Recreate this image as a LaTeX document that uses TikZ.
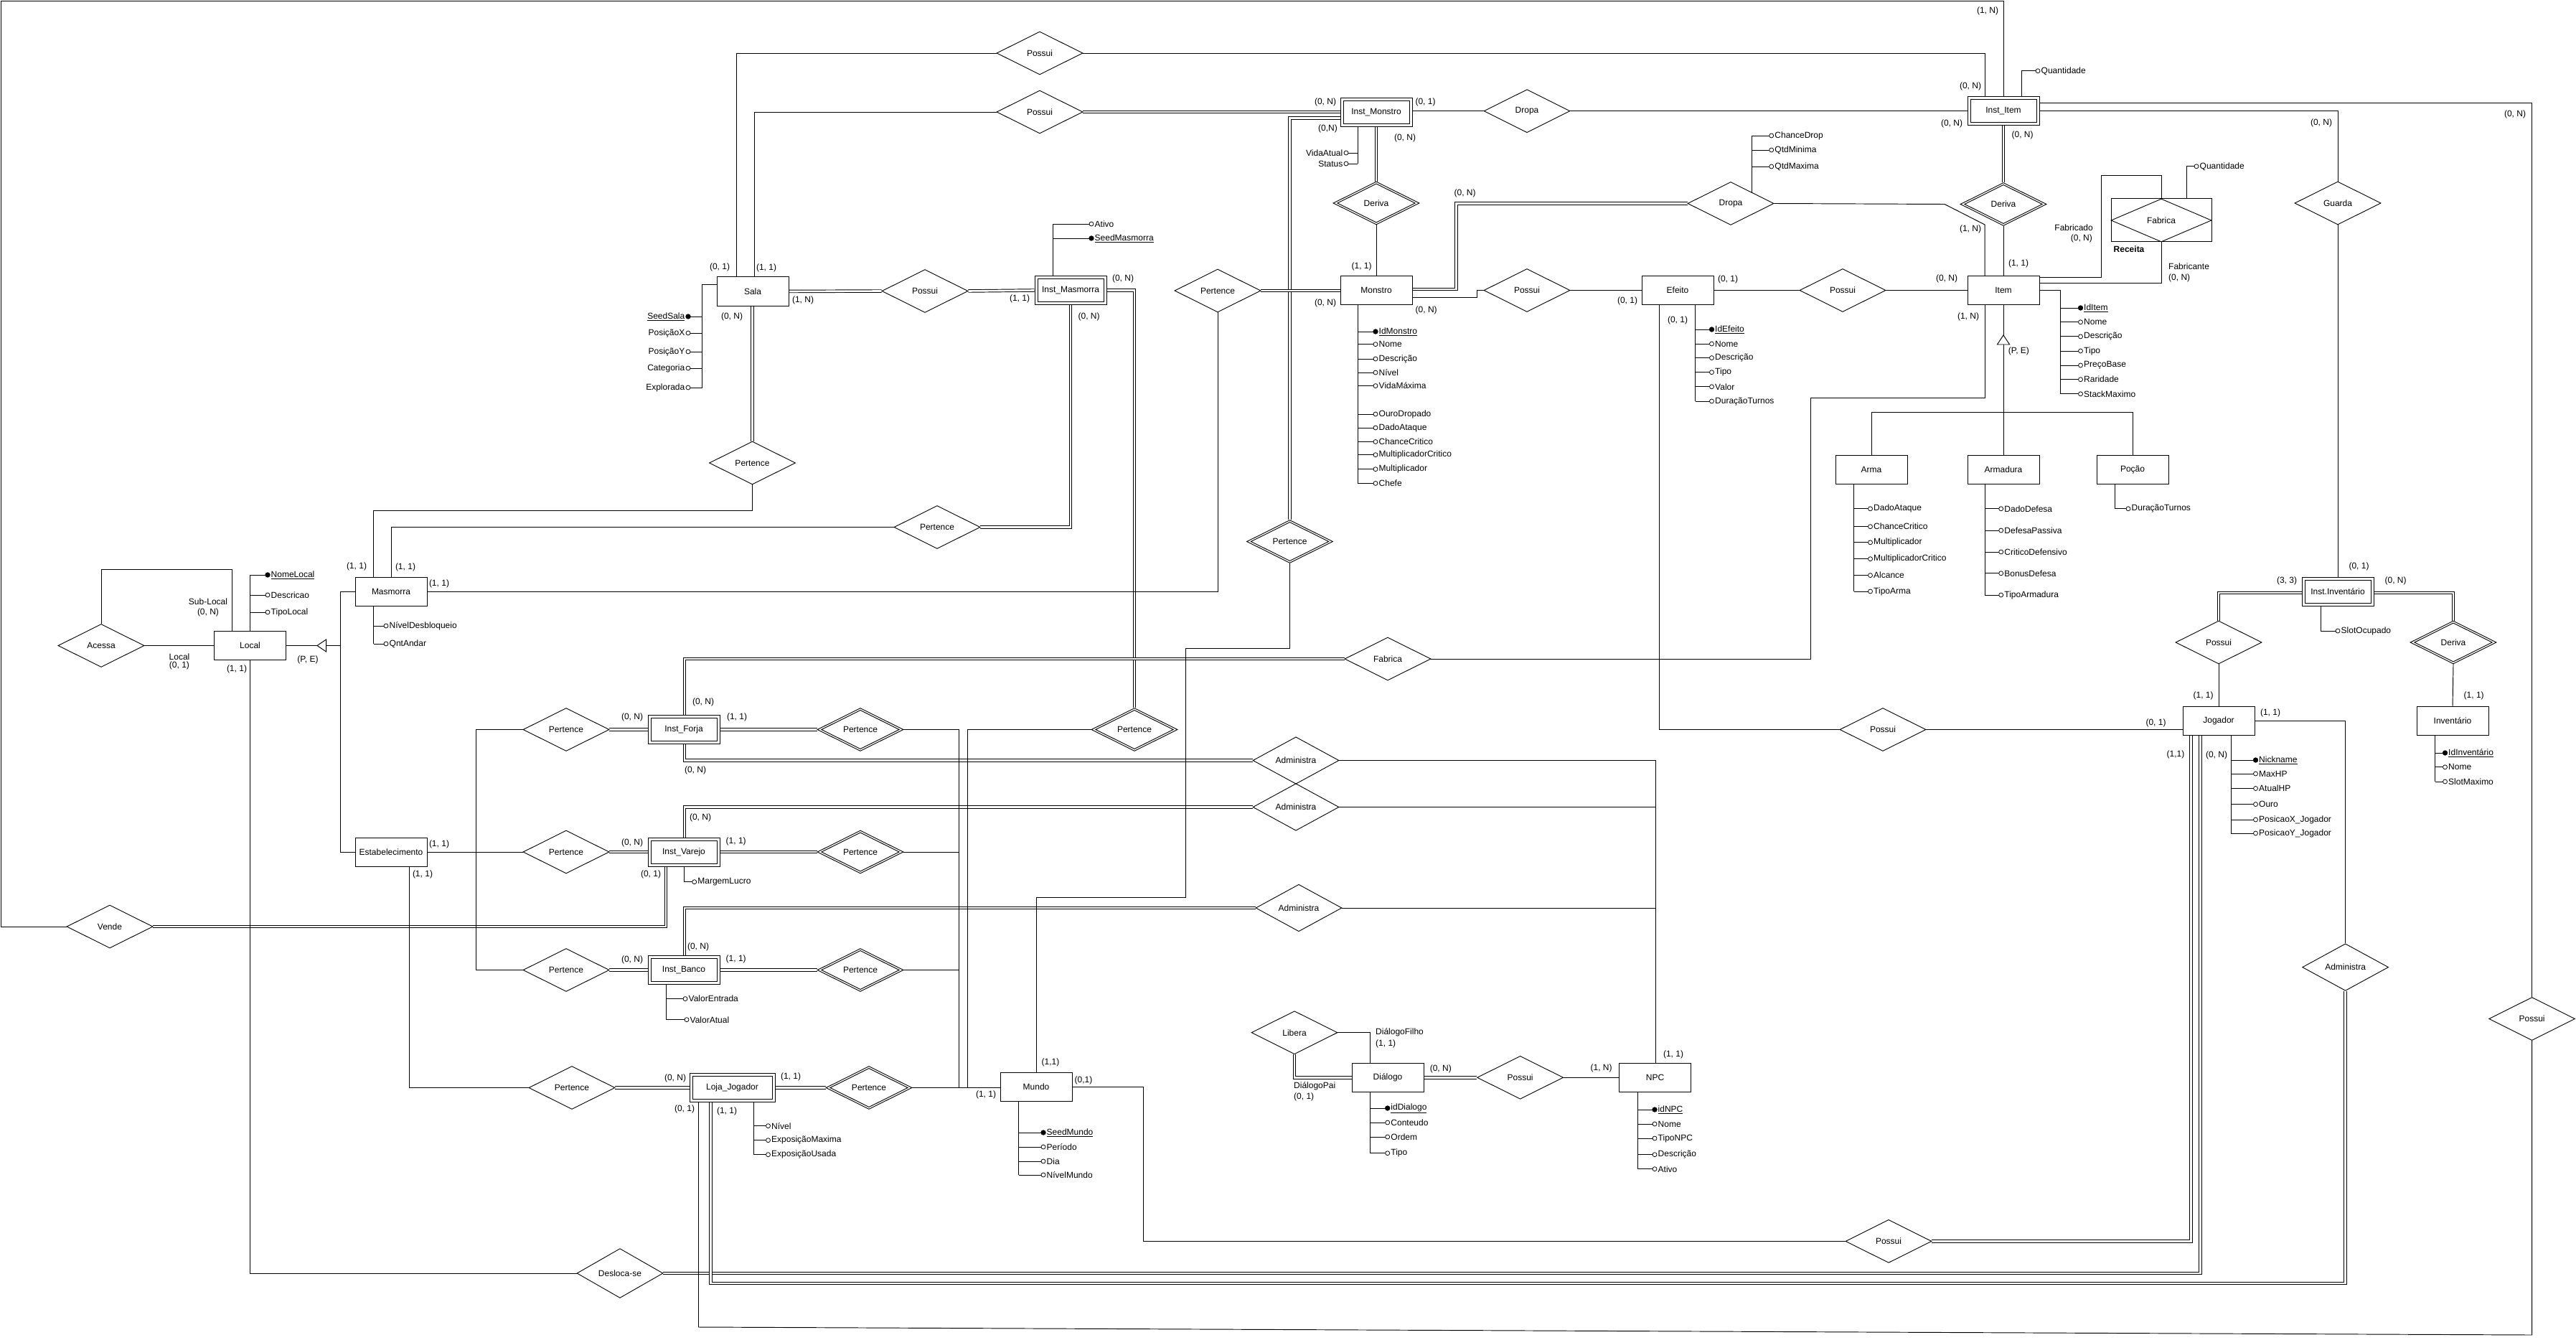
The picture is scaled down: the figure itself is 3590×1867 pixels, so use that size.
\documentclass[tikz,border=0pt]{standalone}
\usepackage{fontspec}
\setmainfont{Liberation Sans}
\usetikzlibrary{shapes.geometric}
\pgfdeclarelayer{bg}
\pgfdeclarelayer{dbl}
\pgfdeclarelayer{sgl}
\pgfsetlayers{bg,dbl,sgl,main}
\tikzset{
  ent/.style={draw, fill=white, line width=1pt, minimum width=100pt, minimum height=40pt, inner sep=0pt},
  went/.style={ent},
  rel/.style={draw, diamond, fill=white, line width=0.9pt, minimum width=120pt, minimum height=60pt, inner sep=0pt},
  wrel/.style={rel},
  dl/.style={line width=0.95pt, double, double distance=2.6pt},
  sl/.style={line width=0.95pt},
  card/.style={inner sep=0pt},
  odot/.style={circle, draw, fill=white, line width=0.75pt, inner sep=0pt, minimum size=6pt},
  fdot/.style={circle, draw, fill=black, line width=0.75pt, inner sep=0pt, minimum size=6.5pt},
  atxt/.style={inner sep=0pt, anchor=west},
  atxtl/.style={inner sep=0pt, anchor=east},
}
\newcommand{\myattr}[5][odot]{\draw[sl] ({#2},{#4}) -- ({#3},{#4}); \node[#1] at ({#3},{#4}) {}; \node[atxt] at ({#3+4.5},{#4}) {#5};}
\newcommand{\myattrL}[5][odot]{\draw[sl] ({#2},{#4}) -- ({#3},{#4}); \node[#1] at ({#3},{#4}) {}; \node[atxtl] at ({#3-4.5},{#4}) {#5};}
\newcommand{\weakbox}[1]{\draw[line width=1pt] ([shift={(4.5pt,-4.5pt)}]#1.north west) rectangle ([shift={(-4.5pt,4.5pt)}]#1.south east);}
\newcommand{\weakdia}[1]{\node[draw, diamond, line width=0.9pt, minimum width=108.5pt, minimum height=54.3pt, inner sep=0pt] at (#1.center) {};}
\begin{document}
\begin{tikzpicture}[x=1pt, y=-1pt, every node/.append style={font=\fontsize{12pt}{14pt}\selectfont}]
\begin{pgfonlayer}{bg}
\fill[white] (0,0) rectangle (3590,1867);
\end{pgfonlayer}
\useasboundingbox (0,0) rectangle (3590,1867);

% ---------- entities ----------
\node[ent] (sala) at (1049,406) {Sala};
\node[ent] (masmorra) at (545,824) {Masmorra};
\node[ent] (local) at (348.5,899.5) {Local};
\node[ent] (estab) at (545,1187) {Estabelecimento};
\node[ent] (monstro) at (1918,404.5) {Monstro};
\node[ent] (efeito) at (2338,404.5) {Efeito};
\node[ent] (item) at (2792,404.5) {Item};
\node[ent] (arma) at (2608,654.3) {Arma};
\node[ent] (armadura) at (2792,654.3) {Armadura};
\node[ent] (pocao) at (2972,654.3) {Poção};
\node[ent] (jogador) at (3092,1004.2) {Jogador};
\node[ent] (inventario) at (3418,1004.2) {Inventário};
\node[ent] (mundo) at (1444,1514.3) {Mundo};
\node[ent] (dialogo) at (1934,1501.3) {Diálogo};
\node[ent] (npc) at (2306.5,1501.3) {NPC};
\node[went] (imasm) at (1492,404.5) {Inst\_Masmorra};
\node[went] (imonstro) at (1918,157) {Inst\_Monstro};
\node[went] (iitem) at (2792,154.5) {Inst\_Item};
\node[went] (iinv) at (3258,824.2) {Inst.Inventário};
\node[went] (iforja) at (953,1016.5) {Inst\_Forja};
\node[went] (ivarejo) at (953,1187) {Inst\_Varejo};
\node[went] (ibanco) at (953,1351.5) {Inst\_Banco};
\node[went, minimum width=119pt] (loja) at (1020.5,1515.5) {Loja\_Jogador};
\weakbox{imasm}\weakbox{imonstro}\weakbox{iitem}\weakbox{iinv}
\weakbox{iforja}\weakbox{ivarejo}\weakbox{ibanco}\weakbox{loja}

% ---------- relationships ----------
\node[rel] (pA) at (1449,74) {Possui};
\node[rel] (pB) at (1449,156) {Possui};
\node[rel] (pC) at (1289,405.5) {Possui};
\node[rel] (ptSala) at (1048.5,645) {Pertence};
\node[rel] (ptIM) at (1306,734.5) {Pertence};
\node[rel] (ptMon) at (1697,405) {Pertence};
\node[rel] (dropaA) at (2128,154.7) {Dropa};
\node[rel] (dropaB) at (2412,283.5) {Dropa};
\node[rel] (pD) at (2128,404.5) {Possui};
\node[rel] (pE) at (2568,404.5) {Possui};
\node[rel] (pF) at (2624,1016.5) {Possui};
\node[rel] (guarda) at (3258,283) {Guarda};
\node[rel] (pG) at (3092,895) {Possui};
\node[rel] (acessa) at (141,899.5) {Acessa};
\node[rel] (vende) at (153,1291) {Vende};
\node[rel] (ptF) at (789,1016.5) {Pertence};
\node[rel] (ptV) at (789,1187) {Pertence};
\node[rel] (ptB) at (789,1351.5) {Pertence};
\node[rel] (ptL) at (797,1515.5) {Pertence};
\node[rel] (fabrica) at (1934,918) {Fabrica};
\node[rel] (admA) at (1806,1059.5) {Administra};
\node[rel] (admB) at (1806,1124.5) {Administra};
\node[rel] (admC) at (1810,1265) {Administra};
\node[rel] (admD) at (3268.6,1347.6) {Administra};
\node[rel] (libera) at (1804,1438.7) {Libera};
\node[rel] (pH) at (2118.6,1501.3) {Possui};
\node[rel] (pI) at (2632,1729.4) {Possui};
\node[rel] (pJ) at (3528.6,1419.5) {Possui};
\node[rel] (desloca) at (864,1774) {Desloca-se};
\node[wrel] (dvA) at (1918,283) {Deriva};
\node[wrel] (dvB) at (2792,284.5) {Deriva};
\node[wrel] (dvC) at (3419,895) {Deriva};
\node[wrel] (wpIMon) at (1797.5,754.5) {Pertence};
\node[wrel] (wpIMasm) at (1581,1016.5) {Pertence};
\node[wrel] (wpF) at (1199,1016.5) {Pertence};
\node[wrel] (wpV) at (1199,1187) {Pertence};
\node[wrel] (wpB) at (1199,1351.5) {Pertence};
\node[wrel] (wpL) at (1211,1515.5) {Pertence};
\weakdia{dvA}\weakdia{dvB}\weakdia{dvC}\weakdia{wpIMon}\weakdia{wpIMasm}
\weakdia{wpF}\weakdia{wpV}\weakdia{wpB}\weakdia{wpL}
\node[draw, fill=white, line width=1pt, minimum width=140pt, minimum height=60pt, inner sep=0pt] (receita) at (3012,307) {};
\node[rel, minimum width=140pt, fill=none] (fabricaR) at (3012,307) {Fabrica};

% ---------- double connectors ----------
\begin{pgfonlayer}{dbl}
\draw[dl] (vende.east) -- (928,1291) -- (ivarejo.south -| 928,0);
\draw[dl] (pB.east) -- (imonstro.west |- pB.east);
\draw[dl] (wpIMon.north) -- (1797.5,164.5) -- (imonstro.west |- 0,164.5);
\draw[dl] (sala.east) -- (pC.west);
\draw[dl] (pC.east) -- (imasm.west);
\draw[dl] (imasm.east) -- (1581,404.5) -- (wpIMasm.north);
\draw[dl] (imasm.south) |- (ptIM.east);
\draw[dl] (ptSala.north) -- (sala.south -| ptSala.north);
\draw[dl] (ptMon.east) -- (monstro.west |- ptMon.east);
\draw[dl] (imonstro.south) -- (dvA.north);
\draw[dl] (monstro.east |- 0,403) -- (2029.6,403) |- (dropaB.west);
\draw[dl] (iitem.south) -- (dvB.north);
\draw[dl] (iinv.west |- 0,826) -| (pG.north);
\draw[dl] (iinv.east |- 0,826) -| (dvC.north);
\draw[dl] (iforja.north -| 954,0) -- (954,918) -- (fabrica.west);
\draw[dl] (iforja.south -| 954,0) |- (admA.west);
\draw[dl] (ivarejo.north -| 954,0) |- (admB.west);
\draw[dl] (ibanco.north -| 954,0) |- (admC.west);
\draw[dl] (ptF.east) -- (iforja.west);
\draw[dl] (ptV.east) -- (ivarejo.west);
\draw[dl] (ptB.east) -- (ibanco.west);
\draw[dl] (ptL.east) -- (loja.west);
\draw[dl] (iforja.east) -- (wpF.west);
\draw[dl] (ivarejo.east) -- (wpV.west);
\draw[dl] (ibanco.east) -- (wpB.west);
\draw[dl] (loja.east) -- (wpL.west);
\draw[dl] (desloca.east) -| (jogador.south -| 3066.5,0);
\draw[dl] (pI.east) -| (jogador.south -| 3053.5,0);
\draw[dl] (admD.south) -- (3268.6,1788) -- (990.5,1788) -- (loja.south -| 990.5,0);
\draw[dl] (libera.south) |- (dialogo.west);
\draw[dl] (dialogo.east) -- (pH.west);
\end{pgfonlayer}

% ---------- single connectors ----------
\begin{pgfonlayer}{sgl}
\draw[sl] (vende.west) -| (1,1) -| (iitem.north);
\draw[sl] (pA.west) -| (sala.north -| 1026,0);
\draw[sl] (pA.east) -| (iitem.north -| 2766,0);
\draw[sl] (pB.west) -| (sala.north -| 1051,0);
\draw[sl] (ptIM.west) -| (masmorra.north);
\draw[sl] (ptSala.south) -- (1048.5,711.6) -- (520.6,711.6) -- (masmorra.north -| 520.6,0);
\draw[sl] (masmorra.east) -| (ptMon.south);
\draw[sl] (imonstro.east |- dropaA.west) -- (dropaA.west);
\draw[sl] (dropaA.east) -- (iitem.west |- dropaA.east);
\draw[sl] (dvA.south) -- (monstro.north);
\draw[sl] (monstro.east |- 0,414) -- (2058,414) -- (2058,404.5) -- (pD.west);
\draw[sl] (dropaB.east) -- (2710,284.5) -- (2766,313) -- (item.north -| 2766,0);
\draw[sl] (pD.east) -- (efeito.west);
\draw[sl] (efeito.east) -- (pE.west);
\draw[sl] (pE.east) -- (item.west);
\draw[sl] (efeito.south -| 2312.6,0) |- (pF.west);
\draw[sl] (pF.east) -- (jogador.west |- pF.east);
\draw[sl] (dvB.south) -- (item.north);
\draw[sl] (item.east |- 0,386.5) -- (2928,386.5) -- (2928,244) -- (3012,244) -- (receita.north);
\draw[sl] (item.east |- 0,394.5) -| (receita.south);
\draw[sl] (iitem.east |- 0,143.8) -| (pJ.north);
\draw[sl] (iitem.east) -| (guarda.north);
\draw[sl] (guarda.south) -- (iinv.north);
\draw[sl] (pG.south) -- (jogador.north);
\draw[sl] (dvC.south) -- (inventario.north);
\draw[sl] (item.south) -- (2792,467);
\draw[sl] (2792,480) -- (armadura.north);
\draw[sl] (arma.north) -- (2608,574.5) -- (2972,574.5) -- (pocao.north);
\draw[sl] (fabrica.east) -- (2523,918) -- (2523,554) -- (2766,554) -- (item.south -| 2766,0);
\draw[sl] (local.east) -- (442,899.5);
\draw[sl] (454.6,899.5) -- (474.7,899.5);
\draw[sl] (masmorra.west) -- (474.7,824) -- (474.7,1187) -- (estab.west);
\draw[sl] (acessa.east) -- (local.west);
\draw[sl] (acessa.north) |- (323,793.6) -- (local.north -| 323,0);
\draw[sl] (local.south) |- (desloca.west);
\draw[sl] (estab.east) -- (ptV.west);
\draw[sl] (ptF.west) -- (663,1016.5) -- (663,1351.5) -- (ptB.west);
\draw[sl] (estab.south -| 570.5,0) |- (ptL.west);
\draw[sl] (wpF.east) -- (1336,1016.5) -- (1336,1515.5);
\draw[sl] (wpV.east) -- (1336,1187);
\draw[sl] (wpB.east) -- (1336,1351.5);
\draw[sl] (wpL.east) -- (mundo.west |- wpL.east);
\draw[sl] (wpIMasm.west) -- (1348,1016.5) -- (1348,1515.5);
\draw[sl] (wpIMon.south) -- (1797.5,903) -- (1652.5,903) -- (1652.5,1250) -- (1444,1250) -- (mundo.north);
\draw[sl] (admA.east) -- (2307,1059.5) -- (npc.north -| 2307,0);
\draw[sl] (admB.east) -- (2307,1124.5);
\draw[sl] (admC.east) -- (2307,1265);
\draw[sl] (mundo.east) -- (1593,1514.3) |- (pI.west);
\draw[sl] (jogador.east) -| (admD.north);
\draw[sl] (pJ.south) -- (3528.6,1860) -- (973.5,1849) -- (loja.south -| 973.5,0);
\draw[sl] (libera.east) -| (dialogo.north -| 1909,0);
\draw[sl] (pH.east) -- (npc.west);
% attribute spines
\draw[sl] (sala.west |- 0,396.5) -- (978.6,396.5) -- (978.6,540);
\draw[sl] (imasm.north -| 1467,0) -- (1467,312);
\draw[sl] (imonstro.south -| 1892,0) -- (1892,228);
\draw[sl] (monstro.south -| 1892,0) -- (1892,673.4);
\draw[sl] (efeito.south -| 2362.5,0) -- (2362.5,559);
\draw[sl] (2441.7,268) -- (2441.7,189);
\draw[sl] (item.east |- 0,404.6) -- (2871.4,404.6) -- (2871.4,548.8);
\draw[sl] (iitem.north -| 2817,0) -- (2817,98.8);
\draw[sl] (receita.north -| 3047,0) -- (3047,231.8);
\draw[sl] (arma.south -| 2583.5,0) -- (2583.5,824);
\draw[sl] (armadura.south -| 2766.3,0) -- (2766.3,829);
\draw[sl] (pocao.south -| 2947.7,0) -- (2947.7,708.8);
\draw[sl] (jogador.south -| 3109,0) -- (3109,1161);
\draw[sl] (iinv.south -| 3234,0) -- (3234,879);
\draw[sl] (inventario.south -| 3393.7,0) -- (3393.7,1089);
\draw[sl] (local.north -| 348.4,0) -- (348.4,801);
\draw[sl] (masmorra.south -| 520.6,0) -- (520.6,897);
\draw[sl] (ivarejo.south -| 953,0) -- (953,1228.7);
\draw[sl] (ibanco.south -| 928.7,0) -- (928.7,1420.7);
\draw[sl] (loja.south -| 1050,0) -- (1050,1608.7);
\draw[sl] (mundo.south -| 1419.5,0) -- (1419.5,1637);
\draw[sl] (dialogo.south -| 1909,0) -- (1909,1606.7);
\draw[sl] (npc.south -| 2282,0) -- (2282,1628.7);
\end{pgfonlayer}

% generalization triangles
\draw[sl, fill=white] (442,899.5) -- (454.6,891) -- (454.6,908) -- cycle;
\draw[sl, fill=white] (2792,467) -- (2783.4,480) -- (2800.6,480) -- cycle;

% ---------- attributes ----------
\myattrL[fdot]{978.6}{959}{441}{\underline{SeedSala}}
\myattrL{978.6}{959}{464}{PosiçãoX}
\myattrL{978.6}{959}{490}{PosiçãoY}
\myattrL{978.6}{959}{513}{Categoria}
\myattrL{978.6}{959}{540}{Explorada}
\myattr{1467}{1521}{312}{Ativo}
\myattr[fdot]{1467}{1521}{332}{\underline{SeedMasmorra}}
\myattrL{1892}{1876}{213}{VidaAtual}
\myattrL{1892}{1876}{228}{Status}
\myattr[fdot]{1892}{1917}{462}{\underline{IdMonstro}}
\myattr{1892}{1917}{479.7}{Nome}
\myattr{1892}{1917}{500}{Descrição}
\myattr{1892}{1917}{519}{Nível}
\myattr{1892}{1917}{537.6}{VidaMáxima}
\myattr{1892}{1917}{577}{OuroDropado}
\myattr{1892}{1917}{596}{DadoAtaque}
\myattr{1892}{1917}{615.5}{ChanceCritico}
\myattr{1892}{1917}{633.7}{MultiplicadorCritico}
\myattr{1892}{1917}{653.7}{Multiplicador}
\myattr{1892}{1917}{673.4}{Chefe}
\myattr[fdot]{2362.5}{2385.5}{459}{\underline{IdEfeito}}
\myattr{2362.5}{2385.5}{479}{Nome}
\myattr{2362.5}{2385.5}{498.6}{Descrição}
\myattr{2362.5}{2385.5}{518.7}{Tipo}
\myattr{2362.5}{2385.5}{538.8}{Valor}
\myattr{2362.5}{2385.5}{559}{DuraçãoTurnos}
\myattr{2441.7}{2468.7}{189}{ChanceDrop}
\myattr{2441.7}{2468.7}{209}{QtdMinima}
\myattr{2441.7}{2468.7}{232}{QtdMaxima}
\myattr[fdot]{2871.4}{2899.5}{429}{\underline{IdItem}}
\myattr{2871.4}{2899.5}{448.8}{Nome}
\myattr{2871.4}{2899.5}{468.9}{Descrição}
\myattr{2871.4}{2899.5}{489}{Tipo}
\myattr{2871.4}{2899.5}{509}{PreçoBase}
\myattr{2871.4}{2899.5}{528.7}{Raridade}
\myattr{2871.4}{2899.5}{548.8}{StackMaximo}
\myattr{2817}{2840}{98.8}{Quantidade}
\myattr{3047}{3061}{231.8}{Quantidade}
\myattr{2583.5}{2606.5}{708.8}{DadoAtaque}
\myattr{2583.5}{2606.5}{733.7}{ChanceCritico}
\myattr{2583.5}{2606.5}{755.8}{Multiplicador}
\myattr{2583.5}{2606.5}{778.7}{MultiplicadorCritico}
\myattr{2583.5}{2606.5}{801.6}{Alcance}
\myattr{2583.5}{2606.5}{824}{TipoArma}
\myattr{2766.3}{2788.7}{708.8}{DadoDefesa}
\myattr{2766.3}{2788.7}{739}{DefesaPassiva}
\myattr{2766.3}{2788.7}{769}{CriticoDefensivo}
\myattr{2766.3}{2788.7}{798.8}{BonusDefesa}
\myattr{2766.3}{2788.7}{829}{TipoArmadura}
\myattr{2947.7}{2966}{708.8}{DuraçãoTurnos}
\myattr[fdot]{3109}{3143.5}{1059}{\underline{Nickname}}
\myattr{3109}{3143.5}{1078}{MaxHP}
\myattr{3109}{3143.5}{1098.5}{AtualHP}
\myattr{3109}{3143.5}{1120.6}{Ouro}
\myattr{3109}{3143.5}{1142}{PosicaoX\_Jogador}
\myattr{3109}{3143.5}{1161}{PosicaoY\_Jogador}
\myattr{3234}{3258}{879}{SlotOcupado}
\myattr[fdot]{3393.7}{3407.5}{1049}{\underline{IdInventário}}
\myattr{3393.7}{3407.5}{1068.8}{Nome}
\myattr{3393.7}{3407.5}{1089}{SlotMaximo}
\myattr[fdot]{348.4}{373}{801}{\underline{NomeLocal}}
\myattr{348.4}{373}{829}{Descricao}
\myattr{348.4}{373}{853}{TipoLocal}
\myattr{520.6}{538}{872}{NívelDesbloqueio}
\myattr{520.6}{538}{897}{QntAndar}
\myattr{953}{967.7}{1228.7}{MargemLucro}
\myattr{928.7}{955}{1391.6}{ValorEntrada}
\myattr{928.7}{957}{1420.7}{ValorAtual}
\myattr{1050}{1070.5}{1568.7}{Nível}
\myattr{1050}{1070.5}{1588.7}{ExposiçãoMaxima}
\myattr{1050}{1070.5}{1608.7}{ExposiçãoUsada}
\myattr[fdot]{1419.5}{1454}{1578}{\underline{SeedMundo}}
\myattr{1419.5}{1454}{1598}{Período}
\myattr{1419.5}{1454}{1618}{Dia}
\myattr{1419.5}{1454}{1637}{NívelMundo}
\myattr[fdot]{1909}{1933.7}{1544}{\underline{idDialogo}}
\myattr{1909}{1933.7}{1564}{Conteudo}
\myattr{1909}{1933.7}{1584}{Ordem}
\myattr{1909}{1933.7}{1606.7}{Tipo}
\myattr[fdot]{2282}{2306}{1546}{\underline{idNPC}}
\myattr{2282}{2306}{1566}{Nome}
\myattr{2282}{2306}{1586}{TipoNPC}
\myattr{2282}{2306}{1608.7}{Descrição}
\myattr{2282}{2306}{1628.7}{Ativo}

% ---------- cardinalities and roles ----------
\node[card] at (2770,15) {(1, N)};
\node[card] at (2746,120) {(0, N)};
\node[card] at (2720,172) {(0, N)};
\node[card] at (2818.6,188.8) {(0, N)};
\node[card] at (3235,171.5) {(0, N)};
\node[card] at (3505,159) {(0, N)};
\node[card, anchor=east] at (2917,317) {Fabricado};
\node[card, anchor=east] at (2916,332) {(0, N)};
\node[card, anchor=west] at (2945.5,347) {\bfseries Receita};
\node[card, anchor=west] at (3022,371.6) {Fabricante};
\node[card, anchor=west] at (3022,387.7) {(0, N)};
\node[card] at (2746,319) {(1, N)};
\node[card] at (2813,367.6) {(1, 1)};
\node[card] at (2713,388.5) {(0, N)};
\node[card] at (2743,441) {(1, N)};
\node[card] at (2813.4,489) {(P, E)};
\node[card] at (1847,142) {(0, N)};
\node[card] at (1986.5,142) {(0, 1)};
\node[card] at (1850.5,179) {(0,N)};
\node[card] at (1958,192) {(0, N)};
\node[card] at (1897.6,371) {(1, 1)};
\node[card] at (1847,422) {(0, N)};
\node[card] at (1987.7,432) {(0, N)};
\node[card] at (2041.6,269) {(0, N)};
\node[card] at (2408,389) {(0, 1)};
\node[card] at (2268,419.4) {(0, 1)};
\node[card] at (2338,446) {(0, 1)};
\node[card] at (1003,372) {(0, 1)};
\node[card] at (1068,373) {(1, 1)};
\node[card] at (1119,418) {(1, N)};
\node[card] at (1020,441) {(0, N)};
\node[card] at (1421,416) {(1, 1)};
\node[card] at (1565,388.5) {(0, N)};
\node[card] at (1517.6,441) {(0, N)};
\node[card] at (497,789) {(1, 1)};
\node[card] at (565,790) {(1, 1)};
\node[card] at (612,813) {(1, 1)};
\node[card] at (290,838) {Sub-Local};
\node[card] at (290,853) {(0, N)};
\node[card] at (250,915) {Local};
\node[card] at (250,927) {(0, 1)};
\node[card] at (330,932) {(1, 1)};
\node[card] at (429,919) {(P, E)};
\node[card] at (612,1176) {(1, 1)};
\node[card] at (589,1218.6) {(1, 1)};
\node[card] at (881,999.7) {(0, N)};
\node[card] at (881,1174) {(0, N)};
\node[card] at (881,1337) {(0, N)};
\node[card] at (1027,999.7) {(1, 1)};
\node[card] at (980,978.8) {(0, N)};
\node[card] at (969,1073) {(0, N)};
\node[card] at (1025.7,1172) {(1, 1)};
\node[card] at (976,1139) {(0, N)};
\node[card] at (907,1218) {(0, 1)};
\node[card] at (1025.7,1336) {(1, 1)};
\node[card] at (973,1319) {(0, N)};
\node[card] at (941,1502) {(0, N)};
\node[card] at (1102,1500) {(1, 1)};
\node[card] at (954,1545) {(0, 1)};
\node[card] at (1013,1548) {(1, 1)};
\node[card] at (1464,1480) {(1,1)};
\node[card] at (1374,1525) {(1, 1)};
\node[card] at (1510,1505) {(0,1)};
\node[card] at (2007.8,1489) {(0, N)};
\node[card, anchor=west] at (1917,1438.7) {DiálogoFilho};
\node[card, anchor=west] at (1917,1454) {(1, 1)};
\node[card, anchor=west] at (1803,1513.5) {DiálogoPai};
\node[card, anchor=west] at (1803,1528.7) {(0, 1)};
\node[card] at (2231.6,1488) {(1, N)};
\node[card] at (2332,1469) {(1, 1)};
\node[card] at (3004.5,1007.7) {(0, 1)};
\node[card] at (3070.6,969) {(1, 1)};
\node[card] at (3164,993) {(1, 1)};
\node[card] at (3032,1051) {(1,1)};
\node[card] at (3089,1052) {(0, N)};
\node[card] at (3287.5,789) {(0, 1)};
\node[card] at (3187,809) {(3, 3)};
\node[card] at (3338.6,809) {(0, N)};
\node[card] at (3447.7,969) {(1, 1)};
\end{tikzpicture}
\end{document}
